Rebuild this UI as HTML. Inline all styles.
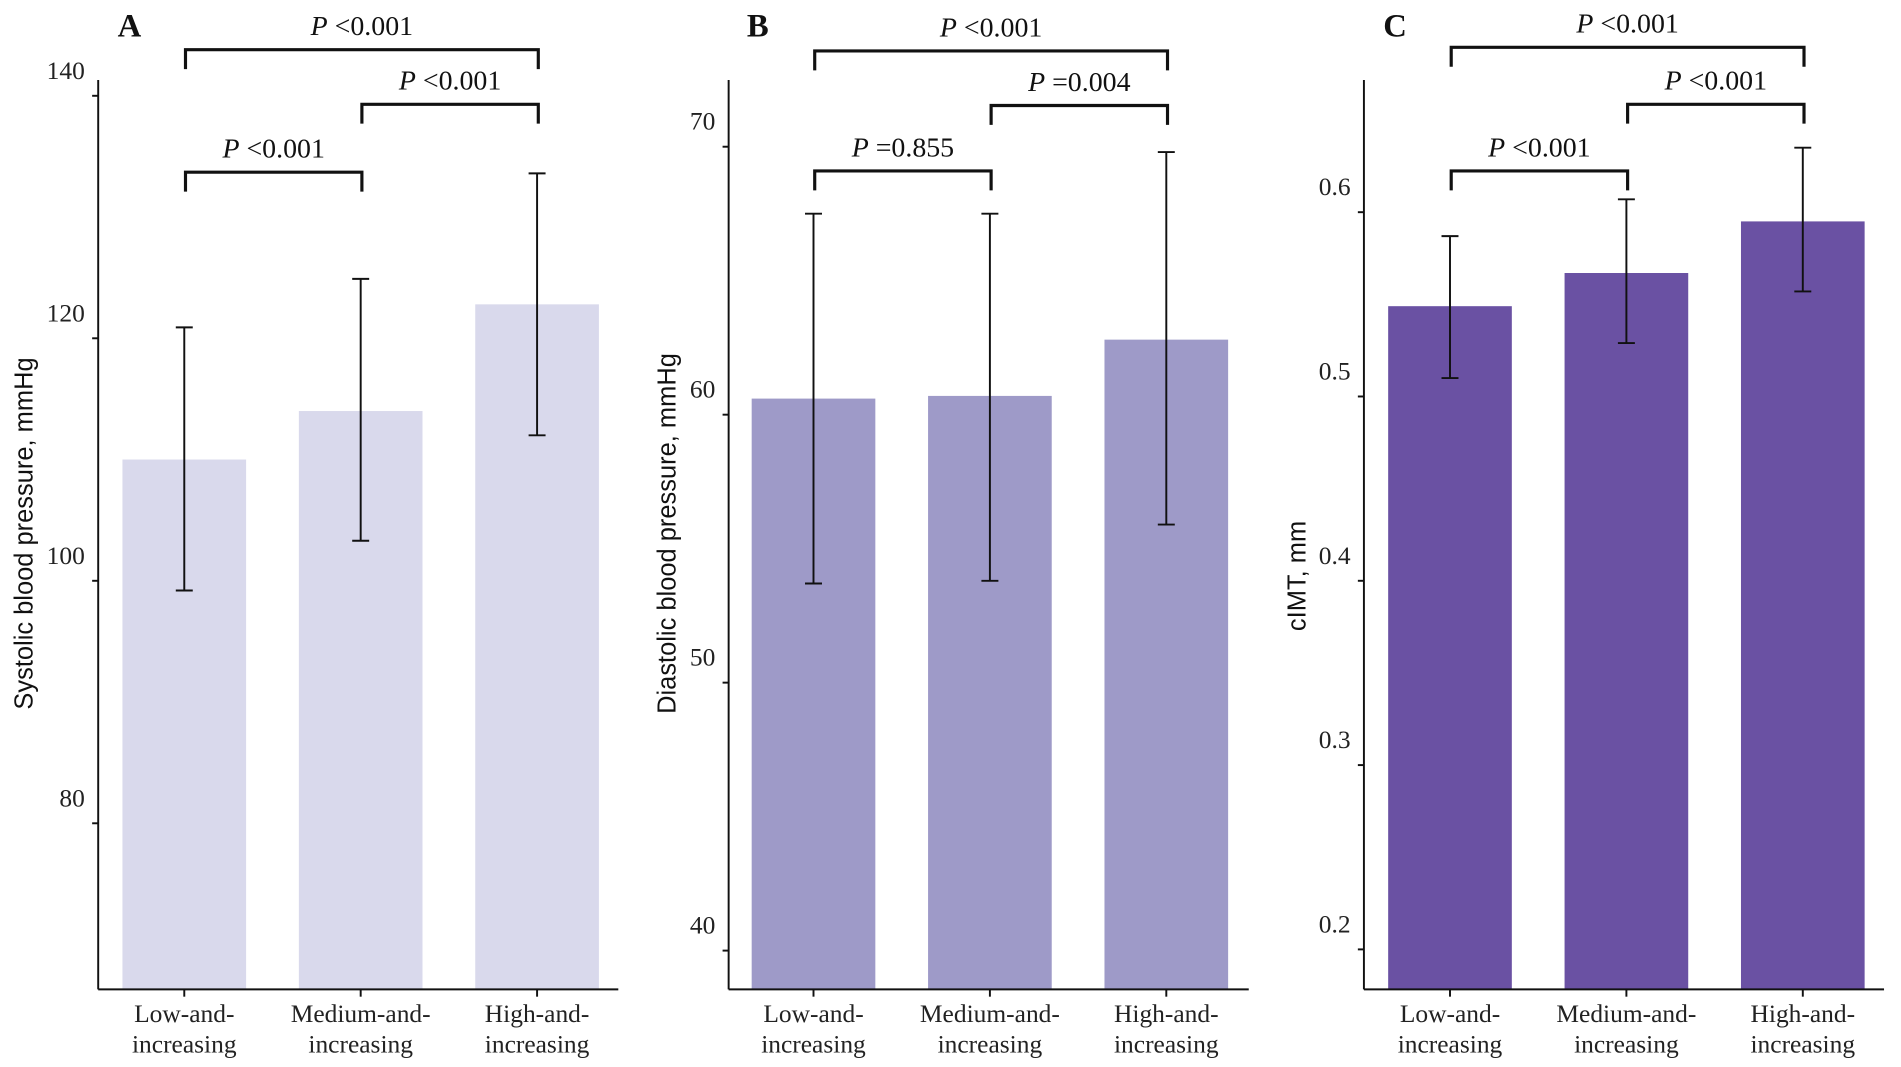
<!DOCTYPE html>
<html><head><meta charset="utf-8"><style>
html,body{margin:0;padding:0;background:#fff;}
svg{display:block;}
.tk{font-family:"Liberation Serif",serif;font-size:21px;fill:#222;}
.ttl{font-family:"Liberation Sans",sans-serif;font-size:21px;fill:#111;}
.pl{font-family:"Liberation Serif",serif;font-size:23px;fill:#111;}
.let{font-family:"Liberation Serif",serif;font-size:27px;font-weight:bold;fill:#111;}
</style></head><body>
<svg id="fig" width="1901" height="1067" viewBox="0 0 1568 880" preserveAspectRatio="none" xmlns="http://www.w3.org/2000/svg"></svg>
<script>
const categories = [["Low-and-","increasing"],["Medium-and-","increasing"],["High-and-","increasing"]];
const sbpMeans = [110.0, 114.0, 122.8];
const sbpLow = [99.2, 103.3, 112.0];
const sbpHigh = [120.9, 124.9, 133.6];
const sbpTicks = [80, 100, 120, 140];
const dbpMeans = [60.6, 60.7, 62.8];
const dbpLow = [53.7, 53.8, 55.9];
const dbpHigh = [67.5, 67.5, 69.8];
const dbpTicks = [40, 50, 60, 70];
const imtMeans = [0.549, 0.567, 0.595];
const imtLow = [0.510, 0.529, 0.557];
const imtHigh = [0.587, 0.607, 0.635];
const imtTicks = [0.2, 0.3, 0.4, 0.5, 0.6];
const sbpP = ["P <0.001", "P <0.001", "P <0.001"];
const dbpP = ["P <0.001", "P =0.004", "P =0.855"];
const imtP = ["P <0.001", "P <0.001", "P <0.001"];

const NS = "http://www.w3.org/2000/svg";
const svg = document.getElementById('fig');
function mk(tag, attrs, parent){const e=document.createElementNS(NS,tag);for(const k in attrs)e.setAttribute(k,attrs[k]);(parent||svg).appendChild(e);return e;}

function panel(cfg){
  const g = mk('g',{});
  
  
  const y = v => cfg.y0px + (v - cfg.v0) * (cfg.y1px - cfg.y0px) / (cfg.v1 - cfg.v0);
  const ax = cfg.ax, bottom = 816, top = 66;
  const xc = i => cfg.x0 + i * 145.5;
  cfg.means.forEach((m,i)=>{
    const r = mk('rect',{x:xc(i)-51,y:y(m),width:102,height:bottom-y(m),fill:cfg.color},g);
    
    
  });
  cfg.means.forEach((m,i)=>{
    const eg = mk('g',{stroke:'#111','stroke-width':1.6,fill:'none'},g);
    
    
    const yl=y(cfg.low[i]), yh=y(cfg.high[i]), x=xc(i);
    mk('line',{x1:x,x2:x,y1:yh,y2:yl},eg);
    mk('line',{x1:x-7,x2:x+7,y1:yh,y2:yh},eg);
    mk('line',{x1:x-7,x2:x+7,y1:yl,y2:yl},eg);
  });
  const axg = mk('g',{stroke:'#111','stroke-width':1.6},g);
  
  
  mk('line',{x1:ax,x2:ax,y1:top,y2:bottom},axg);
  mk('line',{x1:ax,x2:ax+429,y1:bottom,y2:bottom},axg);
  cfg.ticks.forEach(t=>{
    mk('line',{x1:ax-5,x2:ax,y1:y(t),y2:y(t)},axg);
    const tx = mk('text',{x:ax-11,y:y(t)-14,'text-anchor':'end',class:'tk'},g);
    tx.textContent = cfg.fmt(t);
    
    
  });
  categories.forEach((c,i)=>{
    mk('line',{x1:xc(i),x2:xc(i),y1:bottom,y2:bottom+6},axg);
    const tx = mk('text',{x:xc(i),y:843,'text-anchor':'middle',class:'tk'},g);
    
    
    mk('tspan',{x:xc(i),dy:0},tx).textContent=c[0];
    mk('tspan',{x:xc(i),dy:25},tx).textContent=c[1];
  });
  const yt = mk('text',{x:0,y:0,transform:`translate(${cfg.tx},${cfg.ty}) rotate(-90)`,'text-anchor':'middle',class:'ttl'},g);
  yt.textContent = cfg.title;
  
  
  const lt = mk('text',{x:cfg.x0-55,y:30,class:'let'},g);
  lt.textContent = cfg.letter;
  
  
  const br = [[0,2,cfg.by[0]],[1,2,cfg.by[1]],[0,1,cfg.by[2]]];
  br.forEach((b,k)=>{
    const bg = mk('g',{},g);
    
    
    const xa=xc(b[0])+1, xb=xc(b[1])+1, yy=b[2];
    mk('path',{d:`M${xa},${yy+16} L${xa},${yy} L${xb},${yy} L${xb},${yy+16}`,stroke:'#111','stroke-width':2.6,fill:'none'},bg);
    const t = mk('text',{x:(xa+xb)/2,y:yy-12,'text-anchor':'middle',class:'pl'},bg);
    const ti = mk('tspan',{'font-style':'italic'},t); ti.textContent='P';
    const rest = mk('tspan',{},t); rest.textContent=' '+cfg.p[k].slice(2);
  });
}

panel({name:'panel-a-systolic',letter:'A',ax:81,x0:152,color:'#d9d9ec',means:sbpMeans,low:sbpLow,high:sbpHigh,ticks:sbpTicks,
  v0:140,y0px:79,v1:80,y1px:679,fmt:t=>String(t),title:'Systolic blood pressure, mmHg',tx:27,ty:440,by:[41,86,142],p:sbpP});
panel({name:'panel-b-diastolic',letter:'B',ax:601,x0:671,color:'#9e9ac8',means:dbpMeans,low:dbpLow,high:dbpHigh,ticks:dbpTicks,
  v0:70,y0px:121,v1:40,y1px:784,fmt:t=>String(t),title:'Diastolic blood pressure, mmHg',tx:557,ty:440,by:[42,87,141],p:dbpP});
panel({name:'panel-c-cimt',letter:'C',ax:1125,x0:1196,color:'#6a51a3',means:imtMeans,low:imtLow,high:imtHigh,ticks:imtTicks,
  v0:0.6,y0px:175,v1:0.2,y1px:783,fmt:t=>t.toFixed(1),title:'cIMT, mm',tx:1077,ty:475,by:[39,86,141],p:imtP});
</script>
</body></html>
